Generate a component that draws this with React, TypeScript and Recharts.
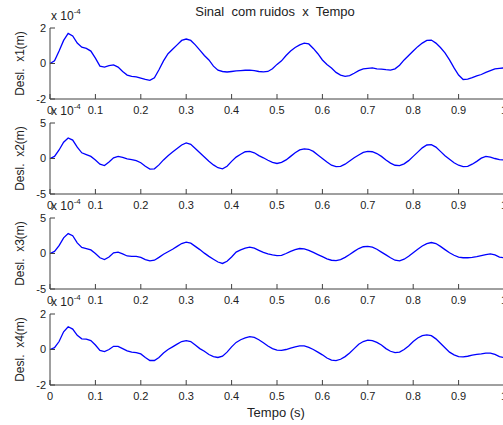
import React from "react";
import { LineChart, Line, XAxis, YAxis } from "recharts";

// tempo (s)
const tempo = [
  0, 0.01, 0.02, 0.03, 0.04, 0.05, 0.06, 0.07, 0.08, 0.09,
  0.1, 0.11, 0.12, 0.13, 0.14, 0.15, 0.16, 0.17, 0.18, 0.19,
  0.2, 0.21, 0.22, 0.23, 0.24, 0.25, 0.26, 0.27, 0.28, 0.29,
  0.3, 0.31, 0.32, 0.33, 0.34, 0.35, 0.36, 0.37, 0.38, 0.39,
  0.4, 0.41, 0.42, 0.43, 0.44, 0.45, 0.46, 0.47, 0.48, 0.49,
  0.5, 0.51, 0.52, 0.53, 0.54, 0.55, 0.56, 0.57, 0.58, 0.59,
  0.6, 0.61, 0.62, 0.63, 0.64, 0.65, 0.66, 0.67, 0.68, 0.69,
  0.7, 0.71, 0.72, 0.73, 0.74, 0.75, 0.76, 0.77, 0.78, 0.79,
  0.8, 0.81, 0.82, 0.83, 0.84, 0.85, 0.86, 0.87, 0.88, 0.89,
  0.9, 0.91, 0.92, 0.93, 0.94, 0.95, 0.96, 0.97, 0.98, 0.99, 1,
];

// deslocamentos (x 10^-4 m)
const x1 = [
  0, 0.15, 0.7, 1.3, 1.7, 1.55, 1.15, 0.92, 0.85, 0.7,
  0.3, -0.15, -0.2, -0.12, -0.08, -0.2, -0.45, -0.65, -0.72, -0.75,
  -0.82, -0.9, -0.95, -0.8, -0.35, 0.15, 0.55, 0.8, 1.05, 1.3,
  1.38, 1.3, 1.05, 0.75, 0.45, 0.2, -0.15, -0.38, -0.45, -0.48,
  -0.45, -0.42, -0.4, -0.38, -0.37, -0.4, -0.45, -0.47, -0.45, -0.3,
  -0.05, 0.15, 0.45, 0.7, 0.9, 1.05, 1.15, 1.1, 0.85, 0.55,
  0.2, -0.05, -0.25, -0.5, -0.65, -0.72, -0.68, -0.55, -0.4, -0.3,
  -0.27, -0.25, -0.3, -0.32, -0.35, -0.37, -0.3, -0.1, 0.2, 0.45,
  0.7, 0.95, 1.15, 1.3, 1.32, 1.15, 0.9, 0.6, 0.2, -0.25,
  -0.65, -0.9, -0.88, -0.8, -0.7, -0.62, -0.5, -0.4, -0.3, -0.27, -0.25,
];
const x2 = [
  0, 0.3, 1.2, 2.3, 2.9, 2.6, 1.6, 0.8, 0.55, 0.3,
  -0.2, -0.8, -1.0, -0.5, 0.1, 0.3, 0.15, -0.05, -0.15, -0.3,
  -0.6, -1.1, -1.5, -1.45, -0.9, -0.2, 0.4, 0.9, 1.4, 1.9,
  2.2, 2.0, 1.4, 0.8, 0.2, -0.4, -0.9, -1.3, -1.45, -1.1,
  -0.4, 0.2, 0.6, 0.95, 1.0, 0.8, 0.4, 0.1, -0.25, -0.55,
  -0.7, -0.55, -0.2, 0.3, 0.8, 1.2, 1.35, 1.3, 1.0, 0.5,
  0.0, -0.5, -0.95, -1.15, -1.1, -0.8, -0.35, 0.1, 0.5, 0.85,
  1.0, 0.95, 0.7, 0.3, -0.2, -0.65, -0.95, -1.0, -0.75, -0.3,
  0.3, 0.9, 1.5, 1.9, 1.95, 1.6, 1.0, 0.4, -0.1, -0.6,
  -0.95, -1.15, -1.1, -0.8, -0.4, 0.05, 0.3, 0.2, 0.0, -0.15, -0.2,
];
const x3 = [
  0, 0.3, 1.1, 2.2, 2.8, 2.5, 1.5, 0.85, 0.7, 0.5,
  0.0, -0.6, -0.85, -0.5, 0.1, 0.2, -0.05, -0.35, -0.4, -0.4,
  -0.55, -0.85, -1.05, -0.95, -0.55, -0.1, 0.25, 0.6, 1.0, 1.4,
  1.6, 1.45, 1.0, 0.55, 0.05, -0.4, -0.8, -1.2, -1.4, -1.1,
  -0.5, 0.2, 0.5, 0.75, 0.9, 0.75, 0.45, 0.15, -0.05, -0.2,
  -0.3, -0.25, 0.0, 0.3, 0.55, 0.7, 0.65, 0.45, 0.15, -0.15,
  -0.45, -0.75, -0.95, -1.0, -0.85, -0.55, -0.15, 0.3, 0.7, 0.95,
  1.0, 0.9, 0.6, 0.2, -0.2, -0.6, -0.95, -1.05, -0.8, -0.4,
  0.1, 0.6, 1.05, 1.4, 1.55, 1.4, 1.0, 0.55, 0.1, -0.25,
  -0.5, -0.6, -0.6, -0.55, -0.45, -0.3, -0.15, -0.05, -0.2, -0.5, -0.6,
];
const x4 = [
  0, 0.1, 0.45, 1.0, 1.28, 1.15, 0.8, 0.6, 0.58, 0.5,
  0.25, -0.05, -0.12, 0.0, 0.18, 0.18, 0.05, -0.08, -0.15, -0.18,
  -0.25, -0.45, -0.62, -0.62, -0.45, -0.2, 0.0, 0.15, 0.3, 0.45,
  0.5, 0.45, 0.25, 0.05, -0.1, -0.28, -0.4, -0.45, -0.38, -0.15,
  0.15, 0.4, 0.55, 0.65, 0.72, 0.68, 0.55, 0.38, 0.2, 0.05,
  -0.03, -0.05, 0.0, 0.08, 0.15, 0.2, 0.2, 0.12, 0.0, -0.15,
  -0.3, -0.48, -0.6, -0.63, -0.55, -0.4, -0.2, 0.05, 0.3, 0.45,
  0.53, 0.5, 0.4, 0.25, 0.05, -0.1, -0.18, -0.15, 0.0, 0.2,
  0.45, 0.65, 0.78, 0.82, 0.78, 0.6, 0.35, 0.1, -0.15, -0.3,
  -0.4, -0.42, -0.38, -0.32, -0.28, -0.25, -0.2, -0.2, -0.28, -0.4, -0.45,
];

const xTicks = [0, 0.1, 0.2, 0.3, 0.4, 0.5, 0.6, 0.7, 0.8, 0.9, 1];
const xTickLabels = ["0", "0.1", "0.2", "0.3", "0.4", "0.5", "0.6", "0.7", "0.8", "0.9", "1"];
const yLimits = [2, 5, 5, 2];
const yLabels = ["Desl.  x1(m)", "Desl.  x2(m)", "Desl.  x3(m)", "Desl.  x4(m)"];
const series = [x1, x2, x3, x4];

const data = tempo.map((t, i) => ({ t, x1: x1[i], x2: x2[i], x3: x3[i], x4: x4[i] }));
const keys = ["x1", "x2", "x3", "x4"];

const FONT = "'Liberation Sans', Arial, sans-serif";
const AXIS = "#404040";
const TXT = "#222";
const plotTops = [28, 123, 218, 314];
const W = 520;
const PH = 71;
const MT = 10;
const XH = 24;

function Painel({ idx }: { idx: number }) {
  const lim = yLimits[idx];
  return (
    <div style={{ position: "absolute", left: 0, top: plotTops[idx] - MT }}>
      <LineChart
        width={W}
        height={MT + PH + XH}
        data={data}
        margin={{ top: MT, right: 16, bottom: 0, left: 0 }}
        style={{ overflow: "visible" }}
      >
        <XAxis
          xAxisId="b"
          dataKey="t"
          type="number"
          domain={[0, 1]}
          ticks={xTicks}
          interval={0}
          tickFormatter={(v: number) => xTickLabels[xTicks.indexOf(v)] ?? String(v)}
          height={XH}
          tickSize={-5}
          tickMargin={12}
          stroke={AXIS}
          tick={{ fill: TXT, fontSize: 11, fontFamily: FONT }}
        />
        <XAxis
          xAxisId="t"
          orientation="top"
          dataKey="t"
          type="number"
          domain={[0, 1]}
          ticks={xTicks}
          interval={0}
          height={0}
          mirror
          tick={false}
          tickSize={5}
          stroke={AXIS}
        />
        <YAxis
          yAxisId="l"
          type="number"
          domain={[-lim, lim]}
          ticks={[-lim, 0, lim]}
          interval={0}
          width={50}
          tickSize={-5}
          tickMargin={9}
          stroke={AXIS}
          tick={{ fill: TXT, fontSize: 11, fontFamily: FONT }}
        />
        <YAxis
          yAxisId="r"
          orientation="right"
          type="number"
          domain={[-lim, lim]}
          ticks={[-lim, 0, lim]}
          interval={0}
          width={0}
          mirror
          tick={false}
          tickSize={5}
          stroke={AXIS}
        />
        <Line
          xAxisId="b"
          yAxisId="l"
          dataKey={keys[idx]}
          type="linear"
          stroke="#0000ff"
          strokeWidth={1.3}
          dot={false}
          isAnimationActive={false}
        />
      </LineChart>
    </div>
  );
}

export default function App() {
  return (
    <div
      style={{
        position: "absolute",
        left: 0,
        top: 0,
        width: 503,
        height: 425,
        overflow: "hidden",
        background: "#fff",
        fontFamily: FONT,
      }}
    >
      {series.map((_, i) => (
        <Painel key={i} idx={i} />
      ))}
      <svg
        width={503}
        height={425}
        style={{ position: "absolute", left: 0, top: 0, pointerEvents: "none" }}
      >
        <text x={275} y={16} textAnchor="middle" fontSize={13} fill={TXT} fontFamily={FONT} style={{ whiteSpace: "pre" }}>
          {"Sinal  com ruidos  x  Tempo"}
        </text>
        {plotTops.map((top, i) => (
          <g key={i}>
            <text x={51} y={top - 8} fontSize={12} fill={TXT} fontFamily={FONT} style={{ whiteSpace: "pre" }}>
              {"x 10"}
              <tspan fontSize={8} dy={-6}>-4</tspan>
            </text>
            <text
              x={24}
              y={top + PH / 2}
              fontSize={12}
              fill={TXT}
              fontFamily={FONT}
              textAnchor="middle"
              transform={`rotate(-90 24 ${top + PH / 2})`}
              style={{ whiteSpace: "pre" }}
            >
              {yLabels[i]}
            </text>
          </g>
        ))}
        <text x={276} y={417} textAnchor="middle" fontSize={13} fill={TXT} fontFamily={FONT}>
          Tempo (s)
        </text>
      </svg>
    </div>
  );
}
